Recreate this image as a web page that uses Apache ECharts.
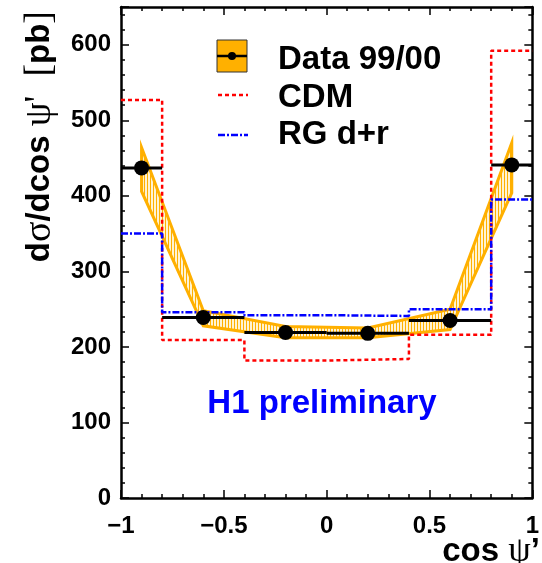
<!DOCTYPE html>
<html>
<head>
<meta charset="utf-8">
<script src="https://cdn.jsdelivr.net/npm/echarts@6/dist/echarts.min.js"></script>
<style>
  html, body { margin: 0; padding: 0; background: #fff; }
  #chart { width: 542px; height: 563px; }
</style>
</head>
<body>
<div id="chart"></div>
<script>
// Bins in cos psi'
const binEdges = [-1, -0.8, -0.4, 0, 0.4, 0.8, 1];
const binCenters = [-0.9, -0.6, -0.2, 0.2, 0.6, 0.9];

// Measured cross section dsigma/dcos psi' [pb]
const dataValues = [437, 239, 219, 218, 235, 441];
// Systematic error band (upper / lower edge)
const bandUpper = [464, 248, 227, 225, 250, 470];
const bandLower = [406, 228, 212, 212, 223, 404];

// Model predictions per bin
const cdmValues = [527, 209, 182, 184, 216, 592];
const rgValues = [350, 246, 242, 241, 250, 395];

// Axis tick values
const xTickValues = [-1, -0.5, 0, 0.5, 1];
const yTickValues = [0, 100, 200, 300, 400, 500, 600];

const FONT = '"Liberation Sans", Arial, Helvetica, sans-serif';
const SERIF = '"Liberation Serif", "DejaVu Serif", serif';
const ORANGE = '#FFB000';

// vertical hatch pattern for the error band
function hatchPattern() {
  const c = document.createElement('canvas');
  c.width = 3; c.height = 4;
  const g = c.getContext('2d');
  g.fillStyle = '#FFF3D2';
  g.fillRect(0, 0, 3, 4);
  g.fillStyle = ORANGE;
  g.fillRect(0, 0, 1, 4);
  return { image: c, repeat: 'repeat' };
}

// histogram outline: one point per lower bin edge plus the last edge
function stepPoints(values) {
  return binEdges.map((e, i) => [e, values[Math.min(i, values.length - 1)]]);
}

function fmtMinus(v) {
  return String(v).replace('-', '\u2212');
}

const tickStyle = { color: '#000', width: 1.5 };
const lineStyleAxis = { color: '#000', width: 2.5 };

function makeX(pos, showLabels) {
  return {
    type: 'value', min: -1, max: 1, interval: 0.5, position: pos,
    axisLine: { show: true, onZero: false, lineStyle: lineStyleAxis },
    axisTick: { show: true, inside: true, length: 8, lineStyle: tickStyle },
    minorTick: { show: true, splitNumber: 5, length: 4, lineStyle: tickStyle },
    axisLabel: {
      show: showLabels, fontSize: 24, fontWeight: 'bold', fontFamily: FONT, color: '#000', margin: 16,
      formatter: v => xTickValues.indexOf(v) >= 0 ? fmtMinus(v) : ''
    },
    splitLine: { show: false }
  };
}
function makeY(pos, showLabels) {
  return {
    type: 'value', min: 0, max: 650, interval: 100, position: pos,
    axisLine: { show: true, onZero: false, lineStyle: lineStyleAxis },
    axisTick: { show: true, inside: true, length: 8, lineStyle: tickStyle },
    minorTick: { show: true, splitNumber: 5, length: 4, lineStyle: tickStyle },
    axisLabel: {
      show: showLabels, fontSize: 24, fontWeight: 'bold', fontFamily: FONT, color: '#000', margin: 10,
      formatter: v => yTickValues.indexOf(v) >= 0 ? String(v) : ''
    },
    splitLine: { show: false }
  };
}

const chart = echarts.init(document.getElementById('chart'), null, { renderer: 'canvas' });
const pattern = hatchPattern();

const option = {
  animation: false,
  backgroundColor: '#fff',
  grid: { left: 121, right: 5, top: 7, bottom: 65, containLabel: false },
  xAxis: [makeX('bottom', true), makeX('top', false)],
  yAxis: [makeY('left', true), makeY('right', false)],
  series: [
    {
      name: 'Data 99/00 band',
      type: 'custom',
      coordinateSystem: 'cartesian2d',
      data: binCenters.map((x, i) => [x, bandLower[i], bandUpper[i]]),
      encode: { x: 0, y: [1, 2] },
      z: 1,
      renderItem: function (params, api) {
        if (params.dataIndex !== 0) return null;
        const pts = [];
        for (let i = 0; i < binCenters.length; i++) pts.push(api.coord([binCenters[i], bandUpper[i]]));
        for (let i = binCenters.length - 1; i >= 0; i--) pts.push(api.coord([binCenters[i], bandLower[i]]));
        return {
          type: 'polygon',
          shape: { points: pts },
          style: { fill: pattern, stroke: ORANGE, lineWidth: 3, lineJoin: 'miter' }
        };
      }
    },
    {
      name: 'CDM',
      type: 'line',
      step: 'end',
      symbol: 'none',
      z: 2,
      data: stepPoints(cdmValues),
      lineStyle: { color: '#ff0000', width: 2.5, type: [4, 3] }
    },
    {
      name: 'RG d+r',
      type: 'line',
      step: 'end',
      symbol: 'none',
      z: 3,
      data: stepPoints(rgValues),
      lineStyle: { color: '#0000ff', width: 2.5, type: [7, 2, 2, 2] }
    },
    {
      name: 'Data 99/00 bins',
      type: 'custom',
      coordinateSystem: 'cartesian2d',
      z: 4,
      data: dataValues.map((v, i) => [binEdges[i], binEdges[i + 1], v]),
      encode: { x: [0, 1], y: 2 },
      renderItem: function (params, api) {
        const a = api.coord([api.value(0), api.value(2)]);
        const b = api.coord([api.value(1), api.value(2)]);
        return {
          type: 'line',
          shape: { x1: a[0], y1: a[1], x2: b[0], y2: b[1] },
          style: { stroke: '#000', lineWidth: 3 }
        };
      }
    },
    {
      name: 'Data 99/00',
      type: 'scatter',
      z: 5,
      symbol: 'circle',
      symbolSize: 15,
      itemStyle: { color: '#000', opacity: 1 },
      data: binCenters.map((x, i) => [x, dataValues[i]])
    }
  ],
  graphic: [
    // legend
    { type: 'rect', shape: { x: 217, y: 40, width: 30, height: 32 },
      style: { fill: ORANGE, stroke: '#333', lineWidth: 1 }, z: 10 },
    { type: 'line', shape: { x1: 217, y1: 56, x2: 247, y2: 56 },
      style: { stroke: '#000', lineWidth: 2.5 }, z: 11 },
    { type: 'circle', shape: { cx: 232, cy: 56, r: 4 }, style: { fill: '#000' }, z: 11 },
    { type: 'text', x: 278, y: 60, z: 11,
      style: { text: 'Data 99/00', font: 'bold 33px ' + FONT, fill: '#000', verticalAlign: 'middle' } },
    { type: 'line', shape: { x1: 218, y1: 95, x2: 248, y2: 95 },
      style: { stroke: '#ff0000', lineWidth: 2.5, lineDash: [4, 3] }, z: 11 },
    { type: 'text', x: 278, y: 98, z: 11,
      style: { text: 'CDM', font: 'bold 33px ' + FONT, fill: '#000', verticalAlign: 'middle' } },
    { type: 'line', shape: { x1: 218, y1: 135, x2: 248, y2: 135 },
      style: { stroke: '#0000ff', lineWidth: 2.5, lineDash: [7, 2, 2, 2] }, z: 11 },
    { type: 'text', x: 278, y: 135, z: 11,
      style: { text: 'RG d+r', font: 'bold 33px ' + FONT, fill: '#000', verticalAlign: 'middle' } },
    // experiment label
    { type: 'text', x: 322, y: 404, z: 11,
      style: { text: 'H1 preliminary', font: 'bold 33px ' + FONT, fill: '#0000ff',
               align: 'center', verticalAlign: 'middle' } },
    // y axis title
    { type: 'text', x: 40, y: 11, rotation: Math.PI / 2, z: 11,
      style: {
        text: '{b|d}{s|\u03c3}{b|/dcos }{s|\u03c8\'  [}{b|pb}{s|]}',
        align: 'right', verticalAlign: 'middle',
        rich: {
          b: { font: 'bold 33px ' + FONT, fill: '#000' },
          s: { font: '38px ' + SERIF, fill: '#000' }
        }
      } },
    // x axis title
    { type: 'text', x: 540, y: 552, z: 11,
      style: {
        text: '{b|cos }{s|\u03c8}{b|\u2019}',
        align: 'right', verticalAlign: 'middle',
        rich: {
          b: { font: 'bold 33px ' + FONT, fill: '#000' },
          s: { font: '36px ' + SERIF, fill: '#000' }
        }
      } }
  ]
};

chart.setOption(option);
</script>
</body>
</html>
